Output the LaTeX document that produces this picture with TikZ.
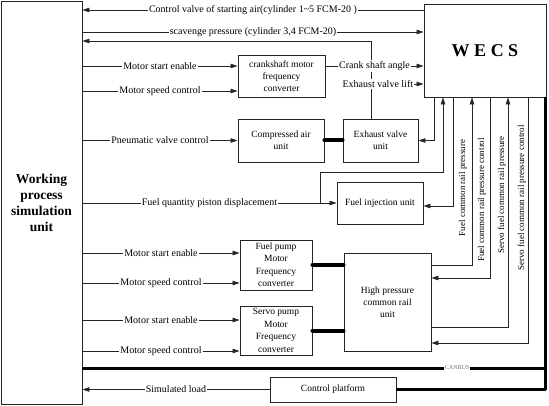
\documentclass[tikz,border=0pt]{standalone}
\usepackage{fontspec}
\setmainfont{Liberation Serif}
\usetikzlibrary{arrows.meta,positioning,calc}
\definecolor{inkline}{HTML}{262626}
\tikzset{unit/.style={rectangle,draw=inkline,line width=.9pt,fill=white,align=center,inner sep=1pt,font=\fontsize{9.5}{12}\selectfont},sig/.style={-{Triangle[length=7pt,width=4.5pt]},line width=.8pt,draw=inkline},shaft/.style={line width=4pt,line cap=round,draw=black},bus/.style={line width=3pt,line join=round,draw=black},lbl/.style={fill=white,inner sep=1pt,font=\fontsize{10}{12}\selectfont},vlbl/.style={rotate=90,inner sep=1pt,font=\fontsize{9}{11}\selectfont}}

\begin{document}
\begin{tikzpicture}[x=1pt,y=-1pt]
\useasboundingbox (0,0) rectangle (549,406);
% blocks
\node[unit,minimum width=81pt,minimum height=403pt,font=\bfseries\fontsize{13.5}{16}\selectfont] (wpu) at (41.5,203) {Working\\process\\simulation\\unit};
\node[unit,minimum width=122pt,minimum height=93pt,font=\bfseries\fontsize{18}{20}\selectfont] (wecs) at (485,50.5) {W E C S};
\node[unit,minimum width=87pt,minimum height=42pt] (crank) at (281.5,76) {crankshaft motor\\frequency\\converter};
\node[unit,minimum width=86pt,minimum height=43pt] (air) at (281,140.5) {Compressed air\\unit};
\node[unit,minimum width=75pt,minimum height=43pt] (exh) at (380.5,140.5) {Exhaust valve\\unit};
\node[unit,minimum width=86pt,minimum height=42pt] (inj) at (380,203) {Fuel injection unit};
\node[unit,minimum width=72pt,minimum height=50pt,font=\fontsize{9.5}{12.5}\selectfont] (fpump) at (276,265) {Fuel pump\\Motor\\Frequency\\converter};
\node[unit,minimum width=72pt,minimum height=49pt,font=\fontsize{9.5}{12.5}\selectfont] (spump) at (276,330.5) {Servo pump\\Motor\\Frequency\\converter};
\node[unit,minimum width=87pt,minimum height=98pt] (hp) at (387.5,302) {High pressure\\common rail\\unit};
\node[unit,minimum width=126pt,minimum height=25pt] (ctrl) at (333,389.5) {Control platform};
% top signals
\draw[sig] (wecs.west |- 0,10) -- node[lbl]{Control valve of starting air(cylinder 1\textasciitilde 5 FCM-20 )} (wpu.east |- 0,10);
\draw[sig] (wpu.east |- 0,32) -- node[lbl]{scavenge pressure (cylinder 3,4 FCM-20)} (wecs.west |- 0,32);
\coordinate (evtop) at (371,41);
\coordinate (evlift) at (371,84);
\draw[sig] (exh.north -| evtop) -- (evtop) -- (wpu.east |- evtop);
\draw[sig] (crank.east |- 0,66) -- node[lbl]{Crank shaft angle} (wecs.west |- 0,66);
\draw[sig] (evlift) -- node[lbl,pos=.13]{Exhaust valve lift} (wecs.west |- evlift);
% converter inputs
\foreach \y/\t/\b in {66/Motor start enable/crank,91/Motor speed control/crank,253/Motor start enable/fpump,283/Motor speed control/fpump,320/Motor start enable/spump,351/Motor speed control/spump}
  \draw[sig] (wpu.east |- 0,\y) -- node[lbl]{\t} (\b.west |- 0,\y);
% air and exhaust valve
\draw[sig] (wpu.east |- air.west) -- node[lbl]{Pneumatic valve control} (air.west);
\draw[shaft] (air.east) -- (exh.west);
\draw[sig] (wecs.south -| 434,0) |- (exh.east);
% fuel injection
\coordinate (fq) at (320,203);
\coordinate (fqturn) at (443,172);
\draw[sig] (fq) |- (fqturn) -- (wecs.south -| fqturn);
\draw[sig] (wpu.east |- inj.west) -- node[lbl]{Fuel quantity piston displacement} (inj.west);
\draw[sig] (wecs.south -| 453,0) |- (inj.east |- 0,206);
% common rail
\draw[sig] (hp.east |- 0,265) -| (wecs.south -| 472,0);
\draw[sig] (wecs.south -| 490,0) |- (hp.east |- 0,278);
\draw[sig] (hp.east |- 0,327) -| (wecs.south -| 508,0);
\draw[sig] (wecs.south -| 528,0) |- (hp.east |- 0,343);
\draw[shaft] (fpump.east) -- (hp.west |- fpump.east);
\draw[shaft] (spump.east) -- (hp.west |- spump.east);
\node[vlbl] (lfp) at (463,188) {Fuel common rail pressure};
\node[vlbl] (lfpc) at (482,200) {Fuel common rail pressure control};
\node[vlbl] (lsp) at (502,195) {Servo fuel common rail pressure};
\node[vlbl] (lspc) at (522,198) {Servo fuel common rail pressure control};
% bus and platform
\draw[bus] (wpu.east |- 0,368) -- node[lbl,pos=.81,font=\fontsize{6}{7}\selectfont,text=black!55]{CANBUS} (545,368);
\draw[bus] (wecs.south -| 545,0) |- (ctrl.east);
\draw[sig] (ctrl.west) -- node[lbl]{Simulated load} (wpu.east |- ctrl.west);
\end{tikzpicture}
\end{document}
